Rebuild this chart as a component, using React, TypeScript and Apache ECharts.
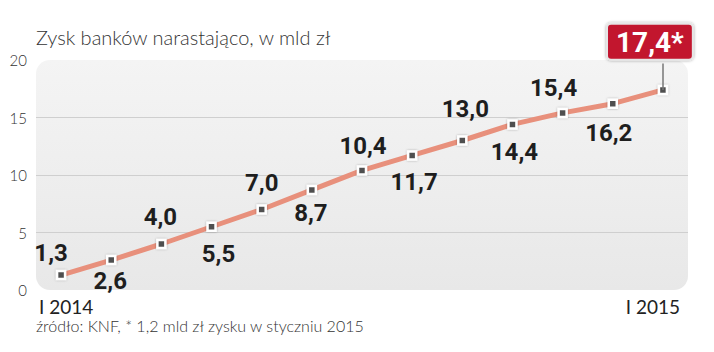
import React, { useEffect, useRef } from "react";
import * as echarts from "echarts";

const months = ["I 2014", "II", "III", "IV", "V", "VI", "VII", "VIII", "IX", "X", "XI", "XII", "I 2015"];
const profit = [1.3, 2.6, 4.0, 5.5, 7.0, 8.7, 10.4, 11.7, 13.0, 14.4, 15.4, 16.2, 17.4];
const yTicks = [0, 5, 10, 15, 20];
const titleText = "Zysk banków narastająco, w mld zł";
const footText = "źródło: KNF, * 1,2 mld zł zysku w styczniu 2015";

// label offsets (style) relative to each marker
const labelDx = [-10, -1, -1, 7, 0, -1, 1, 2, 3, 2, -9, -4, 0];
const labelDy = [-22, 21, -27, 27, -27, 23, -24, 27, -32, 28, -25, 29, 0];

const numFont = "Roboto, 'Liberation Sans', sans-serif";
const lightFont = "Lato, 'Open Sans', sans-serif";

export default function App() {
  const ref = useRef<HTMLDivElement>(null);
  useEffect(() => {
    if (!ref.current) return;
    const chart = echarts.init(ref.current, undefined, { renderer: "svg" });
    const last = profit.length - 1;
    const fmt = (v: number) => v.toFixed(1).replace(".", ",");
    const data = profit.map((v, i) => {
      if (i === last) {
        return {
          value: v,
          label: {
            show: true,
            position: "top",
            distance: 26,
            offset: [-13, 0],
            formatter: fmt(v) + "*",
            color: "#fff",
            fontFamily: numFont,
            fontWeight: "bold",
            fontSize: 28,
            lineHeight: 30,
            backgroundColor: "#c2132d",
            borderColor: "#e6e6e6",
            borderWidth: 2,
            borderRadius: 3,
            padding: [3, 8, 1, 8],
            shadowColor: "rgba(0,0,0,0.35)",
            shadowBlur: 3,
          },
        };
      }
      return {
        value: v,
        label: {
          show: true,
          position: "inside",
          offset: [labelDx[i], labelDy[i]],
          formatter: fmt(v),
        },
      };
    });
    chart.setOption({
      animation: false,
      grid: { left: 36, right: 26, top: 60, bottom: 62 },
      graphic: [
        {
          type: "rect",
          z: -10,
          silent: true,
          shape: { x: 36, y: 60, width: 652, height: 230, r: 14 },
          style: {
            fill: new echarts.graphic.LinearGradient(0, 0, 0, 1, [
              { offset: 0, color: "#f4f4f4" },
              { offset: 1, color: "#e8e8e8" },
            ]),
          },
        },
        {
          type: "text",
          left: 36,
          top: 27,
          style: { text: titleText, fontFamily: lightFont, fontWeight: 300, fontSize: 20, fill: "#333" },
        },
        {
          type: "text",
          left: 36,
          top: 317,
          style: { text: footText, fontFamily: lightFont, fontWeight: 300, fontSize: 16, lineHeight: 17, fill: "#333" },
        },
      ],
      xAxis: {
        type: "category",
        data: months,
        boundaryGap: true,
        axisLine: { show: false },
        axisTick: { show: false },
        axisLabel: {
          interval: 0,
          margin: 7,
          formatter: (v: string, i: number) =>
            i === 0 ? "{a|" + v + "}" : i === months.length - 1 ? "{b|" + v + "}" : "",
          rich: {
            a: { fontFamily: lightFont, fontSize: 19, lineHeight: 18, color: "#222", padding: [0, 0, 0, 10] },
            b: { fontFamily: lightFont, fontSize: 19, lineHeight: 18, color: "#222", padding: [0, 20, 0, 0] },
          },
        },
      },
      yAxis: {
        type: "value",
        min: yTicks[0],
        max: yTicks[yTicks.length - 1],
        interval: 5,
        axisLine: { show: false },
        axisTick: { show: false },
        axisLabel: {
          margin: 9,
          fontFamily: lightFont,
          fontWeight: 300,
          fontSize: 15,
          color: "#333",
        },
        splitLine: {
          show: true,
          lineStyle: { color: ["transparent", "#cfcfcf", "#cfcfcf", "#cfcfcf", "transparent"], width: 1.2 },
        },
      },
      series: [
        {
          type: "line",
          data,
          symbol: "rect",
          symbolSize: 8,
          lineStyle: { color: "#e8907c", width: 5 },
          itemStyle: {
            color: "#505050",
            borderColor: "#ffffff",
            borderWidth: 2.5,
            shadowColor: "rgba(0,0,0,0.3)",
            shadowBlur: 2,
          },
          label: {
            fontFamily: numFont,
            fontWeight: "bold",
            fontSize: 24,
            color: "#1e1e1e",
          },
          z: 3,
          markLine: {
            silent: true,
            symbol: "none",
            label: { show: false },
            lineStyle: { color: "#777", width: 1.5, type: "solid" },
            data: [[{ coord: [last, profit[last]] }, { coord: [last, 19.7] }]],
          },
        },
      ],
    });
    return () => chart.dispose();
  }, []);
  return <div ref={ref} style={{ width: 714, height: 352, margin: -8 }} />;
}
